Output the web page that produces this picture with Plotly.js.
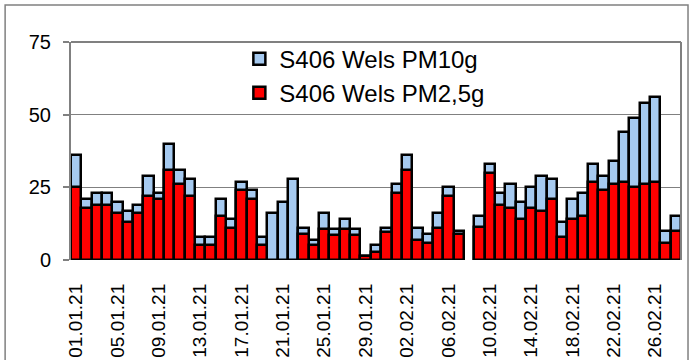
<!DOCTYPE html>
<html>
<head>
<meta charset="utf-8">
<script src="https://cdn.plot.ly/plotly-3.0.1.min.js"></script>
<style>
  html, body { margin: 0; padding: 0; background: #ffffff; }
  #chart { width: 696px; height: 360px; }
</style>
</head>
<body>
<div id="chart"></div>
<script>
// Daily means, S406 Wels, January and February 2021 (µg/m³)
const days = [
  "01.01.21","02.01.21","03.01.21","04.01.21","05.01.21","06.01.21","07.01.21","08.01.21",
  "09.01.21","10.01.21","11.01.21","12.01.21","13.01.21","14.01.21","15.01.21","16.01.21",
  "17.01.21","18.01.21","19.01.21","20.01.21","21.01.21","22.01.21","23.01.21","24.01.21",
  "25.01.21","26.01.21","27.01.21","28.01.21","29.01.21","30.01.21","31.01.21","01.02.21",
  "02.02.21","03.02.21","04.02.21","05.02.21","06.02.21","07.02.21","08.02.21","09.02.21",
  "10.02.21","11.02.21","12.02.21","13.02.21","14.02.21","15.02.21","16.02.21","17.02.21",
  "18.02.21","19.02.21","20.02.21","21.02.21","22.02.21","23.02.21","24.02.21","25.02.21",
  "26.02.21","27.02.21","28.02.21"
];

const pm10 = [
  36, 21, 23, 23, 20, 17, 19, 29,
  23, 40, 31, 28, 8, 8, 21, 14,
  27, 24, 8, 16, 20, 28, 11, 7,
  16, 10.5, 14, 10.5, 1.5, 5, 11, 26,
  36, 11, 9, 16, 25, 10, null, 15,
  33, 23, 26, 20, 25, 29, 28, 13,
  21, 23, 33, 29, 34, 44, 49, 54,
  56, 10, 15
];

const pm25 = [
  25, 18, 19, 19, 16, 13, 16, 22,
  21, 31, 26, 22, 5, 5, 15, 11,
  24, 21, 5, null, null, null, 9, 5,
  10.5, 8.7, 10.5, 8.7, 1.5, 2.7, 9.5, 23,
  31, 7, 6, 11, 22, 9, null, 11.5,
  30, 19, 18, 14, 18, 17, 21, 8,
  14, 15, 27, 24, 26, 27, 25, 26,
  27, 6, 10
];

// Labelled days (every fourth day)
const labelDays = [
  "01.01.21","05.01.21","09.01.21","13.01.21","17.01.21","21.01.21","25.01.21","29.01.21",
  "02.02.21","06.02.21","10.02.21","14.02.21","18.02.21","22.02.21","26.02.21"
];

const yTicks = [0, 25, 50, 75];

// Tick marks sit on the boundary before each labelled day
const boundaryTicks = labelDays.map(d => days.indexOf(d) - 0.5);

const font = "Liberation Sans, Arial, sans-serif";

const traces = [
  {
    type: "bar",
    name: "S406 Wels PM10g",
    x: days,
    y: pm10,
    marker: { color: "#A6CAF0", line: { color: "#000000", width: 2.5 } }
  },
  {
    type: "bar",
    name: "S406 Wels PM2,5g",
    x: days,
    y: pm25,
    marker: { color: "#FF0000", line: { color: "#000000", width: 2.5 } }
  }
];

const layout = {
  width: 696,
  height: 360,
  margin: { l: 71, r: 15, t: 42, b: 100 },
  paper_bgcolor: "#ffffff",
  plot_bgcolor: "#ffffff",
  barmode: "overlay",
  bargap: 0,
  showlegend: true,
  font: { family: font, color: "#000000" },
  legend: {
    x: 0.276, y: 1.025, xanchor: "left", yanchor: "top",
    bgcolor: "rgba(255,255,255,0)",
    font: { family: font, size: 24, color: "#000000" },
    traceorder: "normal"
  },
  xaxis: {
    type: "category",
    categoryorder: "array",
    categoryarray: days,
    range: [-0.5, days.length - 0.5],
    tickmode: "array",
    tickvals: labelDays,
    ticktext: labelDays,
    tickangle: -90,
    ticks: "",
    ticklabelstandoff: 19,
    tickfont: { family: font, size: 19, color: "#000000" },
    showgrid: false,
    showline: false,
    zeroline: false,
    fixedrange: true
  },
  xaxis2: {
    overlaying: "x",
    type: "linear",
    range: [-0.5, days.length - 0.5],
    tickmode: "array",
    tickvals: boundaryTicks,
    ticks: "outside",
    ticklen: 6,
    tickwidth: 1.5,
    tickcolor: "#404040",
    showticklabels: false,
    showgrid: false,
    showline: true,
    linecolor: "#000000",
    linewidth: 1.5,
    zeroline: false,
    fixedrange: true
  },
  yaxis: {
    range: [0, 75],
    tickmode: "array",
    tickvals: yTicks,
    ticks: "outside",
    ticklen: 6,
    tickwidth: 1.5,
    tickcolor: "#808080",
    ticklabelstandoff: 8,
    tickfont: { family: font, size: 20, color: "#000000" },
    showgrid: true,
    gridcolor: "#808080",
    gridwidth: 1,
    showline: true,
    linecolor: "#808080",
    linewidth: 2,
    zeroline: false,
    fixedrange: true
  },
  shapes: [
    // plot area frame (top and right edges)
    { type: "line", xref: "paper", yref: "paper", x0: 0, x1: 1, y0: 1, y1: 1,
      line: { color: "#808080", width: 2 } },
    { type: "line", xref: "paper", yref: "paper", x0: 1, x1: 1, y0: 0, y1: 1,
      line: { color: "#808080", width: 2 } },
    // chart frame
    { type: "rect", xref: "paper", yref: "paper",
      x0: -0.108, x1: 1.0115, y0: -0.6, y1: 1.17,
      line: { color: "#808080", width: 1.5 }, layer: "below" }
  ]
};

Plotly.newPlot("chart", traces, layout, { displayModeBar: false });
</script>
</body>
</html>
